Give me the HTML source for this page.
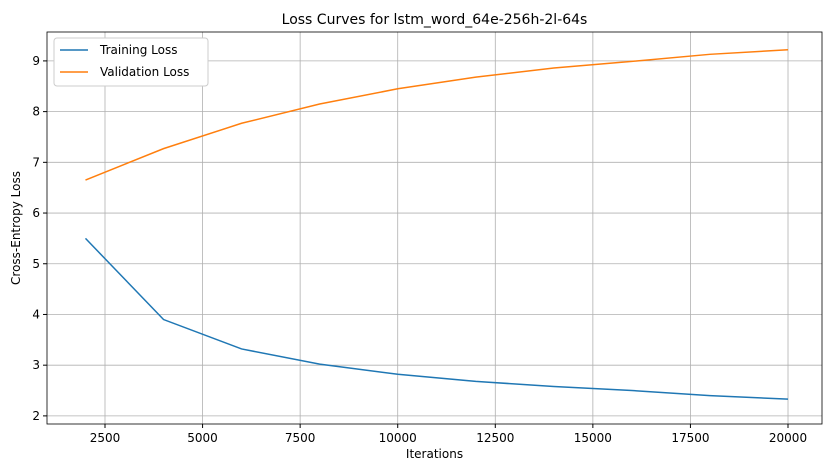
<!DOCTYPE html>
<html><head><meta charset="utf-8"><style>
body{margin:0;background:#fff;font-family:"Liberation Sans","DejaVu Sans",sans-serif}
svg text{font-family:"DejaVu Sans","Liberation Sans",sans-serif}
</style></head><body>
<svg id="c" width="833" height="470"></svg>
<script>
const iterations=[2000,4000,6000,8000,10000,12000,14000,16000,18000,20000];
const trainLoss=[5.5,3.9,3.32,3.02,2.82,2.68,2.58,2.5,2.4,2.33];
const valLoss=[6.65,7.27,7.77,8.15,8.45,8.68,8.86,8.99,9.13,9.22];
const xTicks=[2500,5000,7500,10000,12500,15000,17500,20000];
const yTicks=[2,3,4,5,6,7,8,9];
const L=47,R=822,T=32,B=424,x0=1014,x1=20871,y0=1.84,y1=9.57;
const X=v=>L+(v-x0)/(x1-x0)*(R-L), Y=v=>B-(v-y0)/(y1-y0)*(B-T);
const s=document.getElementById('c'),NS='http://www.w3.org/2000/svg';
function el(t,a,txt){const e=document.createElementNS(NS,t);for(const k in a)e.setAttribute(k,a[k]);if(txt!=null)e.textContent=txt;s.appendChild(e);return e;}
xTicks.forEach(v=>{const g=el('line',{x1:X(v),x2:X(v),y1:T,y2:B,stroke:'#b0b0b0','stroke-width':0.8});


el('line',{x1:X(v),x2:X(v),y1:B,y2:B+4,stroke:'#000'});
const t=el('text',{x:X(v),y:B+18,'font-size':12,'text-anchor':'middle'},v);

});
yTicks.forEach(v=>{const g=el('line',{x1:L,x2:R,y1:Y(v),y2:Y(v),stroke:'#b0b0b0','stroke-width':0.8});


el('line',{x1:L-4,x2:L,y1:Y(v),y2:Y(v),stroke:'#000'});
const t=el('text',{x:L-7,y:Y(v)+4,'font-size':12,'text-anchor':'end'},v);

});
function line(d,c,n){const p=el('polyline',{points:iterations.map((x,i)=>X(x)+','+Y(d[i])).join(' '),fill:'none',stroke:c,'stroke-width':1.5});

}
line(trainLoss,'#1f77b4','training-loss-line');
line(valLoss,'#ff7f0e','validation-loss-line');
const f=el('rect',{x:L,y:T,width:R-L,height:B-T,fill:'none',stroke:'#000','stroke-width':0.8});


const ti=el('text',{x:(L+R)/2,y:T-8,'font-size':14,'text-anchor':'middle'},'Loss Curves for lstm_word_64e-256h-2l-64s');


const xl=el('text',{x:(L+R)/2,y:458,'font-size':12,'text-anchor':'middle'},'Iterations');


const yl=el('text',{x:20,y:(T+B)/2,'font-size':12,'text-anchor':'middle',transform:'rotate(-90 20 '+(T+B)/2+')'},'Cross-Entropy Loss');


const lg=el('rect',{x:54,y:38,width:154,height:48,fill:'#fff',stroke:'#ccc',rx:3});


[['Training Loss','#1f77b4',50],['Validation Loss','#ff7f0e',72]].forEach(([n,c,y])=>{
el('line',{x1:60,x2:88,y1:y,y2:y,stroke:c,'stroke-width':1.5});
const t=el('text',{x:100,y:y+4,'font-size':12},n);

});
</script>
</body></html>
